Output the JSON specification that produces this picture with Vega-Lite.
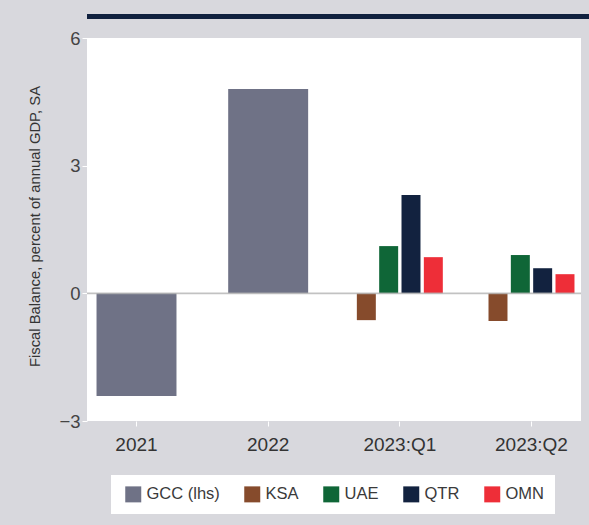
{
  "$schema": "https://vega.github.io/schema/vega-lite/v6.json",
  "background": "#d8d8dd",
  "padding": {"left": 11, "top": 10, "right": 0, "bottom": 12},
  "config": {
    "font": "'Liberation Sans', sans-serif",
    "view": {"stroke": null}
  },
  "spacing": 7,
  "resolve": {"scale": {"color": "independent"}, "legend": {"color": "independent"}},
  "vconcat": [
    {
      "width": 578,
      "height": 5,
      "view": {"fill": "#10213f", "stroke": null},
      "data": {"values": [{"t": ""}]},
      "mark": {"type": "text"},
      "encoding": {"text": {"field": "t"}}
    },
    {
      "width": 494,
      "height": 383,
      "view": {"fill": "white", "stroke": null},
      "data": {
        "values": [
          {"period": "2021", "series": "GCC (lhs)", "value": -2.41},
          {"period": "2022", "series": "GCC (lhs)", "value": 4.80},
          {"period": "2023:Q1", "series": "KSA", "value": -0.63},
          {"period": "2023:Q1", "series": "UAE", "value": 1.11},
          {"period": "2023:Q1", "series": "QTR", "value": 2.31},
          {"period": "2023:Q1", "series": "OMN", "value": 0.85},
          {"period": "2023:Q2", "series": "KSA", "value": -0.65},
          {"period": "2023:Q2", "series": "UAE", "value": 0.90},
          {"period": "2023:Q2", "series": "QTR", "value": 0.59},
          {"period": "2023:Q2", "series": "OMN", "value": 0.45}
        ]
      },
      "encoding": {
        "y": {
          "field": "value",
          "type": "quantitative",
          "scale": {"domain": [-3, 6], "nice": false, "zero": false},
          "axis": {
            "values": [-3, 0, 3, 6],
            "grid": false,
            "domain": false,
            "tickColor": "white",
            "tickSize": 5,
            "tickWidth": 1,
            "labelFontSize": 18.5,
            "labelColor": "#444444",
            "labelPadding": 2,
            "minExtent": 76,
            "title": "Fiscal Balance, percent of annual GDP, SA",
            "titleFontSize": 14.8,
            "titleFontWeight": "normal",
            "titleColor": "#333333",
            "titleAngle": 270,
            "titleAlign": "center",
            "titleBaseline": "bottom",
            "titleX": -45,
            "titleY": 188
          }
        }
      },
      "layer": [
        {
          "transform": [{"filter": "datum.series == 'GCC (lhs)'"}],
          "mark": {"type": "bar", "width": {"band": 0.93}},
          "encoding": {
            "x": {
              "field": "period",
              "type": "nominal",
              "sort": ["2021", "2022", "2023:Q1", "2023:Q2"],
              "scale": {"paddingInner": 0.347, "paddingOuter": 0.0495},
              "axis": {
                "title": null,
                "domain": false,
                "labelAngle": 0,
                "labelFontSize": 19,
                "labelColor": "#333333",
                "labelPadding": 9,
                "tickColor": "white",
                "tickSize": 5,
                "tickWidth": 1
              }
            },
            "color": {
              "field": "series",
              "type": "nominal",
              "scale": {
                "domain": ["GCC (lhs)", "KSA", "UAE", "QTR", "OMN"],
                "range": ["#6f7286", "#864b2c", "#0f6637", "#12223f", "#ee2e38"]
              },
              "legend": {
                "title": null,
                "orient": "none",
                "direction": "horizontal",
                "legendX": 24,
                "legendY": 437,
                "fillColor": "white",
                "padding": 11,
                "symbolType": "square",
                "symbolSize": 256,
                "symbolStrokeWidth": 0,
                "symbolOpacity": 1,
                "symbolOffset": 3,
                "labelFontSize": 16.5,
                "labelColor": "#3a3a3a",
                "labelOffset": 5,
                "columnPadding": 21
              }
            }
          }
        },
        {
          "transform": [{"filter": "datum.series != 'GCC (lhs)'"}],
          "mark": {"type": "bar"},
          "encoding": {
            "x": {
              "field": "period",
              "type": "nominal",
              "sort": ["2021", "2022", "2023:Q1", "2023:Q2"],
              "scale": {"paddingInner": 0.347, "paddingOuter": 0.0495},
              "axis": {
                "title": null,
                "domain": false,
                "labelAngle": 0,
                "labelFontSize": 19,
                "labelColor": "#333333",
                "labelPadding": 9,
                "tickColor": "white",
                "tickSize": 5,
                "tickWidth": 1
              }
            },
            "xOffset": {
              "field": "series",
              "type": "nominal",
              "scale": {"domain": ["KSA", "UAE", "QTR", "OMN"], "paddingInner": 0.15, "paddingOuter": 0}
            },
            "color": {
              "field": "series",
              "type": "nominal",
              "scale": {
                "domain": ["GCC (lhs)", "KSA", "UAE", "QTR", "OMN"],
                "range": ["#6f7286", "#864b2c", "#0f6637", "#12223f", "#ee2e38"]
              },
              "legend": {
                "title": null,
                "orient": "none",
                "direction": "horizontal",
                "legendX": 24,
                "legendY": 437,
                "fillColor": "white",
                "padding": 11,
                "symbolType": "square",
                "symbolSize": 256,
                "symbolStrokeWidth": 0,
                "symbolOpacity": 1,
                "symbolOffset": 3,
                "labelFontSize": 16.5,
                "labelColor": "#3a3a3a",
                "labelOffset": 5,
                "columnPadding": 21
              }
            }
          }
        },
        {
          "data": {"values": [{"value": 0}]},
          "mark": {"type": "rule", "color": "#b3b3b3", "strokeWidth": 1.7, "opacity": 0.8},
          "encoding": {}
        }
      ]
    }
  ]
}
